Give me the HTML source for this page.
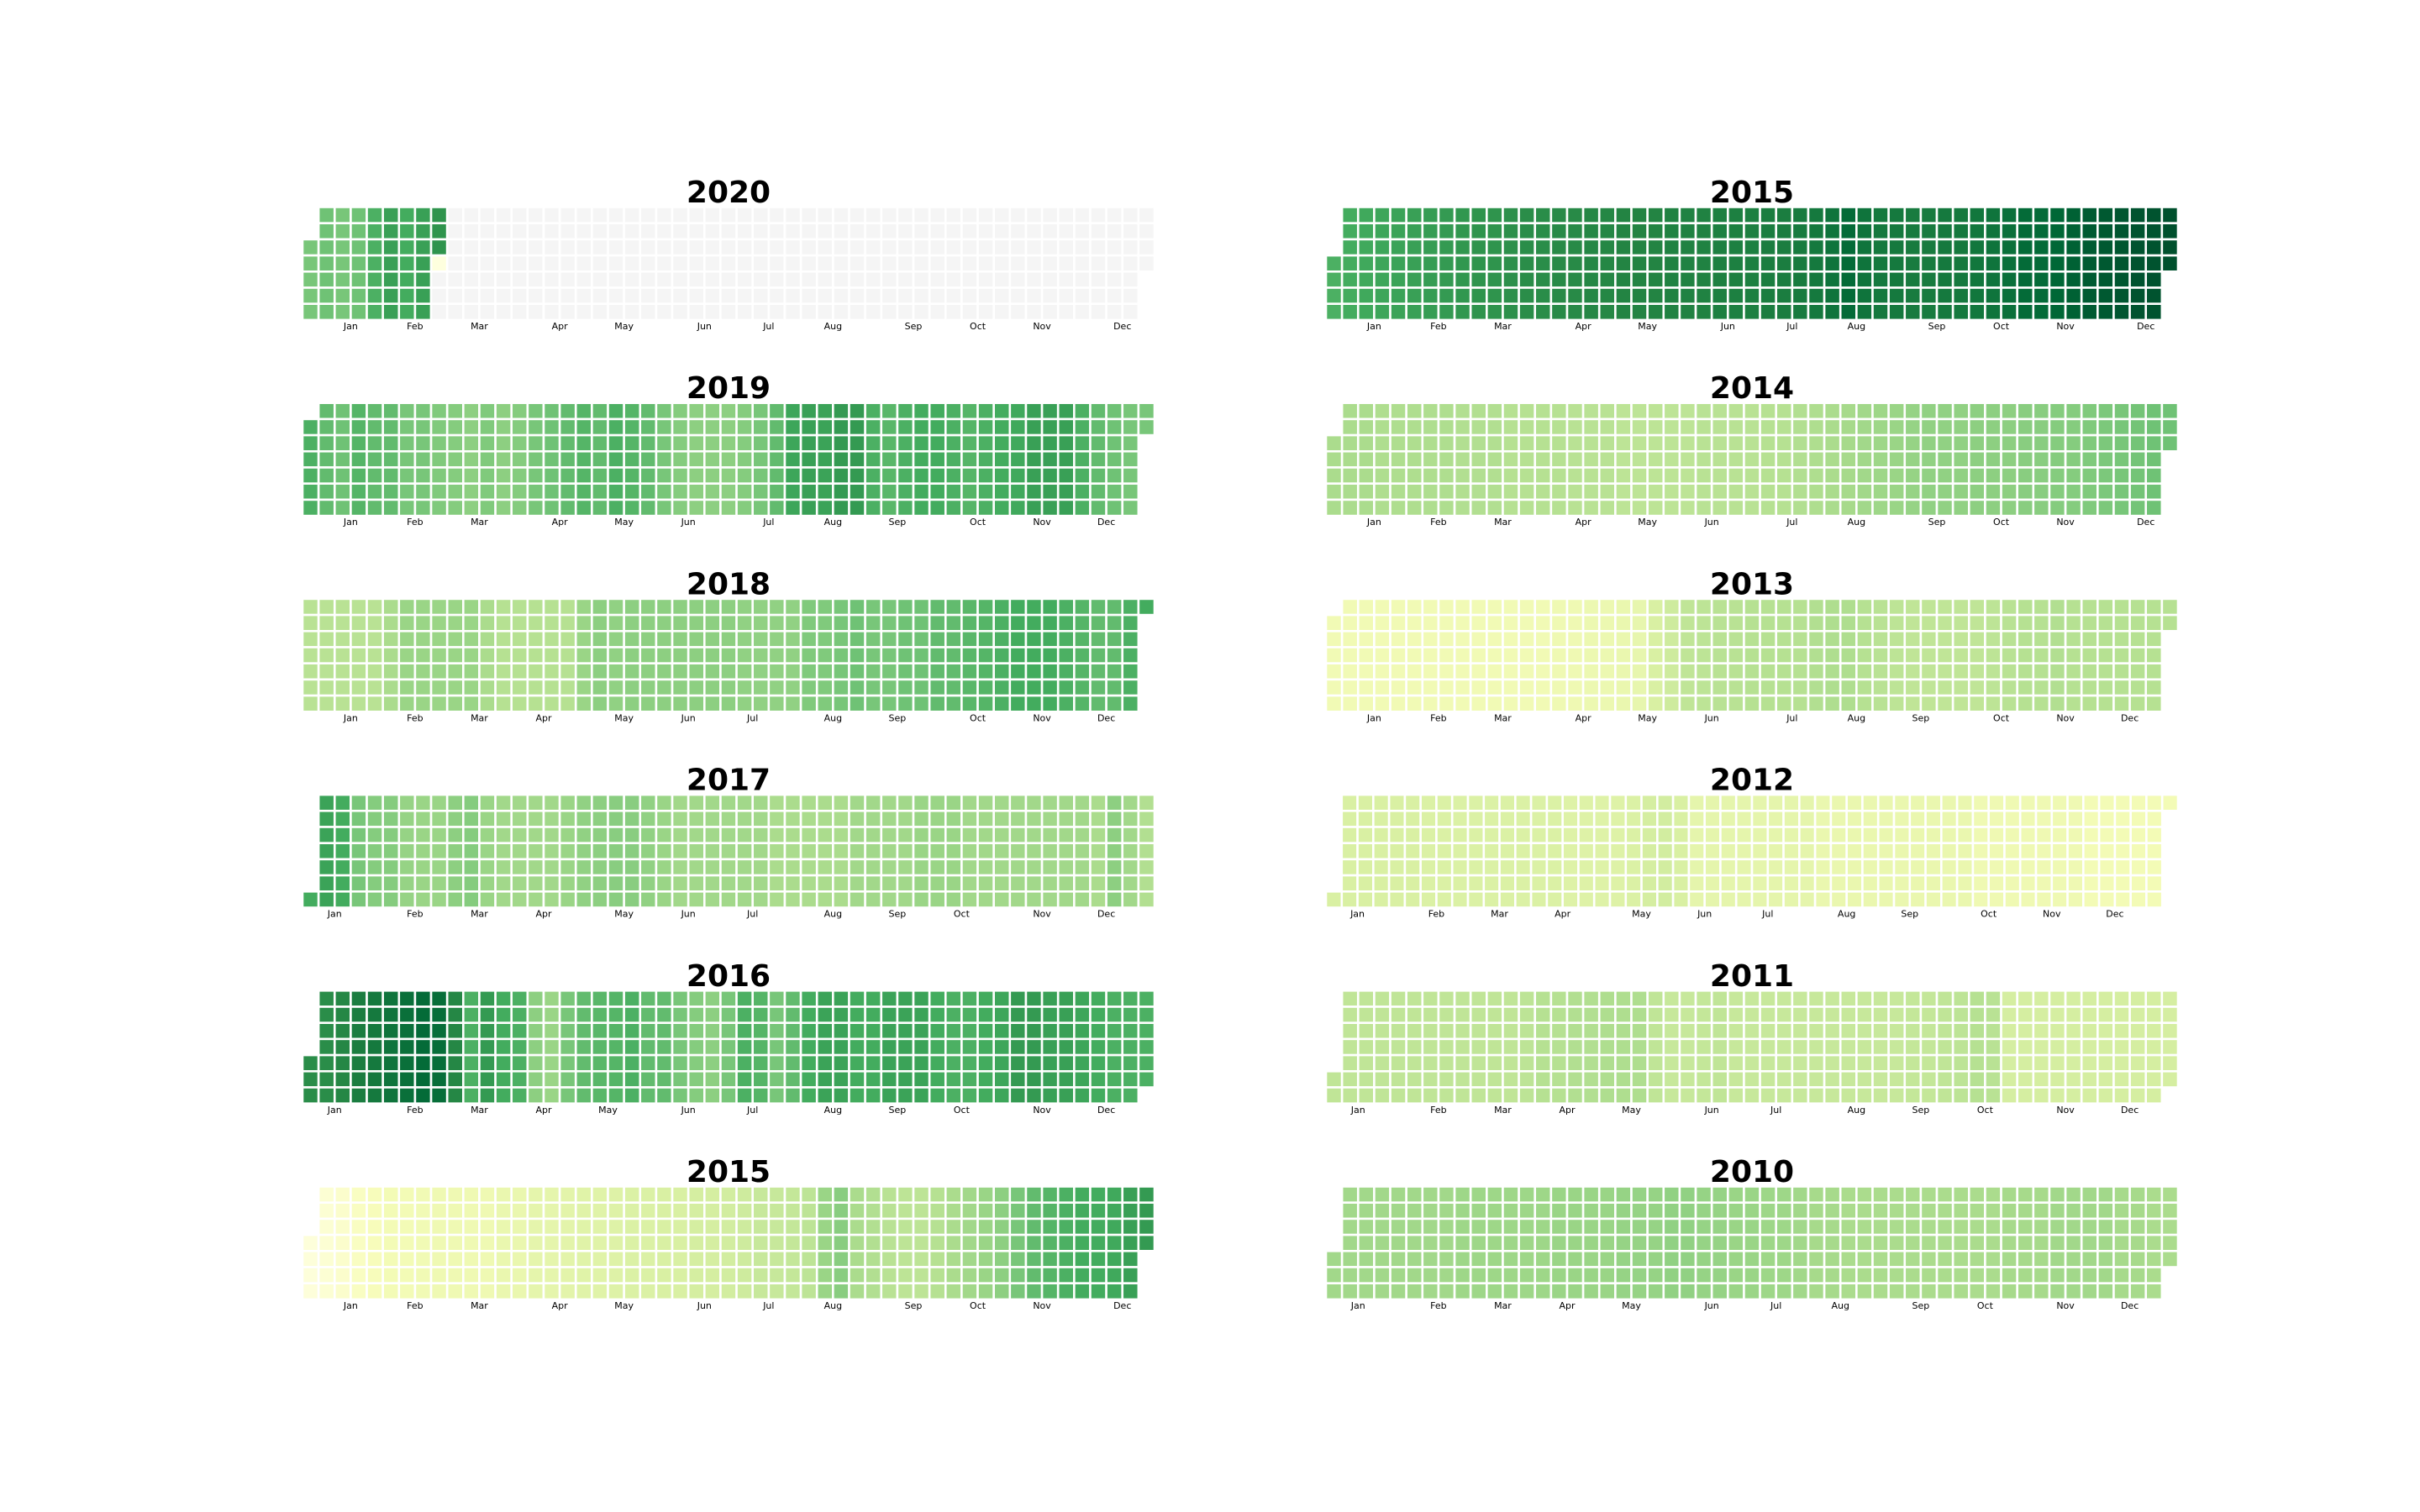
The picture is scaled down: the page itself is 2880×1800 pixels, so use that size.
<!DOCTYPE html>
<html><head><meta charset="utf-8">
<style>
html,body{margin:0;padding:0;background:#fff;}
svg{display:block;}
</style></head>
<body>
<svg id="chart" width="2880" height="1800" viewBox="0 0 2880 1800" xmlns="http://www.w3.org/2000/svg"></svg>
<script>
// ---- data (weekly values, 0..1 on YlGn scale, one per week column) ----
const panelTitles = ["2020","2019","2018","2017","2016","2015","2015","2014","2013","2012","2011","2010"];
const panelYears  = [2020,2019,2018,2017,2016,2015,2015,2014,2013,2012,2011,2010];
const w2020 = [0.5,0.52,0.5,0.52,0.6,0.66,0.62,0.66,0.7];
const dataEnd2020 = "2020-02-27";
const lastValue2020 = 0.02;
const w2019 = [0.6,0.55,0.52,0.58,0.55,0.55,0.5,0.5,0.48,0.47,0.45,0.48,0.45,0.47,0.5,0.52,0.55,0.58,0.55,0.6,0.58,0.55,0.5,0.47,0.45,0.45,0.45,0.47,0.5,0.55,0.64,0.66,0.65,0.68,0.68,0.6,0.57,0.6,0.62,0.62,0.6,0.58,0.6,0.62,0.63,0.66,0.66,0.66,0.6,0.55,0.52,0.5,0.5];
const w2018 = [0.34,0.34,0.34,0.34,0.34,0.38,0.42,0.42,0.42,0.42,0.42,0.38,0.35,0.35,0.35,0.35,0.35,0.42,0.45,0.44,0.45,0.45,0.45,0.45,0.45,0.45,0.45,0.44,0.44,0.44,0.44,0.48,0.48,0.5,0.52,0.5,0.5,0.52,0.52,0.55,0.55,0.57,0.58,0.6,0.62,0.62,0.62,0.6,0.58,0.55,0.55,0.6,0.62];
const w2017 = [0.62,0.65,0.62,0.5,0.47,0.47,0.43,0.42,0.42,0.45,0.47,0.42,0.4,0.4,0.4,0.4,0.42,0.44,0.45,0.46,0.46,0.44,0.42,0.4,0.4,0.4,0.4,0.4,0.4,0.38,0.38,0.38,0.38,0.38,0.4,0.4,0.4,0.4,0.42,0.42,0.42,0.4,0.4,0.4,0.4,0.4,0.4,0.4,0.4,0.38,0.45,0.4,0.36];
const w2016 = [0.72,0.72,0.74,0.78,0.8,0.82,0.84,0.86,0.85,0.74,0.6,0.68,0.62,0.6,0.45,0.42,0.5,0.55,0.57,0.58,0.6,0.55,0.55,0.5,0.47,0.45,0.5,0.6,0.58,0.5,0.55,0.62,0.65,0.65,0.62,0.62,0.65,0.65,0.65,0.62,0.6,0.6,0.62,0.64,0.68,0.68,0.66,0.66,0.64,0.62,0.6,0.6,0.6];
const w2015a = [0.03,0.05,0.07,0.1,0.12,0.14,0.14,0.15,0.16,0.16,0.16,0.16,0.18,0.18,0.2,0.2,0.21,0.22,0.22,0.23,0.24,0.24,0.25,0.25,0.26,0.26,0.27,0.28,0.3,0.3,0.31,0.33,0.42,0.46,0.38,0.36,0.34,0.33,0.33,0.35,0.38,0.4,0.42,0.45,0.5,0.55,0.58,0.6,0.62,0.62,0.63,0.66,0.68];
const w2015b = [0.6,0.62,0.63,0.64,0.65,0.66,0.67,0.68,0.69,0.7,0.7,0.71,0.72,0.72,0.73,0.73,0.74,0.74,0.75,0.75,0.75,0.76,0.76,0.76,0.77,0.77,0.77,0.78,0.78,0.79,0.8,0.82,0.86,0.82,0.8,0.8,0.79,0.79,0.8,0.8,0.81,0.82,0.84,0.86,0.86,0.88,0.9,0.92,0.93,0.94,0.95,0.95,0.96];
const w2014 = [0.38,0.38,0.38,0.37,0.37,0.37,0.37,0.37,0.36,0.36,0.36,0.35,0.35,0.35,0.35,0.34,0.34,0.34,0.33,0.33,0.33,0.33,0.33,0.34,0.34,0.34,0.34,0.35,0.35,0.36,0.37,0.38,0.39,0.4,0.41,0.42,0.43,0.44,0.44,0.44,0.45,0.45,0.45,0.46,0.46,0.47,0.47,0.48,0.49,0.5,0.51,0.52,0.52];
const w2013 = [0.15,0.15,0.15,0.15,0.15,0.15,0.15,0.15,0.15,0.15,0.15,0.15,0.15,0.15,0.16,0.16,0.17,0.17,0.18,0.19,0.25,0.28,0.32,0.33,0.34,0.34,0.35,0.35,0.35,0.35,0.36,0.37,0.37,0.35,0.34,0.33,0.32,0.32,0.32,0.32,0.32,0.33,0.34,0.35,0.35,0.36,0.35,0.35,0.35,0.35,0.35,0.35,0.35];
const w2012 = [0.25,0.25,0.25,0.25,0.25,0.25,0.24,0.24,0.24,0.24,0.24,0.24,0.24,0.24,0.24,0.23,0.23,0.23,0.23,0.24,0.26,0.27,0.25,0.2,0.2,0.2,0.2,0.2,0.2,0.2,0.2,0.18,0.18,0.18,0.18,0.18,0.18,0.18,0.18,0.18,0.18,0.16,0.16,0.16,0.16,0.16,0.16,0.16,0.14,0.14,0.14,0.14,0.14,0.14];
const w2011 = [0.32,0.32,0.32,0.32,0.32,0.32,0.32,0.32,0.32,0.32,0.32,0.32,0.33,0.35,0.35,0.36,0.36,0.37,0.37,0.37,0.32,0.3,0.3,0.31,0.32,0.3,0.3,0.3,0.3,0.3,0.3,0.3,0.3,0.3,0.3,0.3,0.31,0.31,0.32,0.33,0.35,0.34,0.26,0.26,0.26,0.26,0.26,0.26,0.26,0.26,0.26,0.26,0.26];
const w2010 = [0.4,0.4,0.4,0.4,0.4,0.4,0.4,0.4,0.41,0.41,0.41,0.41,0.41,0.41,0.42,0.42,0.42,0.42,0.43,0.43,0.43,0.44,0.44,0.43,0.43,0.42,0.42,0.41,0.41,0.4,0.39,0.39,0.38,0.38,0.38,0.38,0.38,0.38,0.38,0.38,0.38,0.38,0.39,0.39,0.39,0.4,0.4,0.4,0.4,0.39,0.39,0.38,0.38];
const panelWeekly = [w2020,w2019,w2018,w2017,w2016,w2015a,w2015b,w2014,w2013,w2012,w2011,w2010];
const monthLabels = ["Jan","Feb","Mar","Apr","May","Jun","Jul","Aug","Sep","Oct","Nov","Dec"];

// ---- layout ----
const NS = "http://www.w3.org/2000/svg";
const svg = document.getElementById("chart");
const gridW = 1014, rowPitch = 19.2;
const colX0 = [360, 1578];
const top0 = 246.5, panelPitch = 233.2;
const ylgn = ["#ffffe5","#f7fcb9","#d9f0a3","#addd8e","#78c679","#41ab5d","#238443","#006837","#004529"];
function hex2rgb(h){return [parseInt(h.slice(1,3),16),parseInt(h.slice(3,5),16),parseInt(h.slice(5,7),16)];}
function cmap(v){
  v=Math.max(0,Math.min(1,v)); const p=v*(ylgn.length-1); const i=Math.min(Math.floor(p),ylgn.length-2); const f=p-i;
  const a=hex2rgb(ylgn[i]), b=hex2rgb(ylgn[i+1]);
  return "rgb("+a.map((c,k)=>Math.round(c+(b[k]-c)*f)).join(",")+")";
}
function isoWeek(y,m,d){
  const t=new Date(Date.UTC(y,m,d)); const day=(t.getUTCDay()+6)%7;
  t.setUTCDate(t.getUTCDate()-day+3);
  const yr=t.getUTCFullYear(); const jan4=new Date(Date.UTC(yr,0,4));
  const j4day=(jan4.getUTCDay()+6)%7;
  return 1+Math.round(((t-jan4)/864e5-3+j4day)/7);
}
function mk(tag,attrs){const e=document.createElementNS(NS,tag);for(const k in attrs)e.setAttribute(k,attrs[k]);return e;}

panelYears.forEach((year,pi)=>{
  const side = pi<6?0:1, slot = pi%6;
  const x0 = colX0[side], top = top0 + slot*panelPitch;
  const weekly = panelWeekly[pi];
  const g = mk("g",{});
  
  
  svg.appendChild(g);
  const days=[];
  for(let t=Date.UTC(year,0,1); new Date(t).getUTCFullYear()===year; t+=864e5){
    const dt=new Date(t); const m=dt.getUTCMonth(), d=dt.getUTCDate();
    let w=isoWeek(year,m,d);
    days.push({m,d,w,wd:(dt.getUTCDay()+6)%7,iso:dt.toISOString().slice(0,10)});
  }
  days.forEach(o=>{ if(o.m===0 && o.w>50) o.w=0; });
  const maxW=Math.max(...days.map(o=>o.w));
  days.forEach(o=>{ if(o.m===11 && o.w<10) o.w=maxW+1; });
  const weeks=[...new Set(days.map(o=>o.w))].sort((a,b)=>a-b);
  const ncol=weeks.length, pitch=gridW/ncol;
  const xs=v=>x0+v*pitch;
  const title=mk("text",{x:x0+gridW/2,y:top-17,"text-anchor":"middle","dominant-baseline":"central","font-family":"DejaVu Sans, Liberation Sans, sans-serif","font-weight":"bold","font-size":"36"});
  title.textContent=panelTitles[pi];
  
  
  g.appendChild(title);
  days.forEach(o=>{
    const ci=weeks.indexOf(o.w);
    let fill;
    if(year===2020 && pi===0){
      if(o.iso>dataEnd2020) fill="#f5f5f5";
      else if(o.iso===dataEnd2020) fill=cmap(lastValue2020);
      else fill=cmap(weekly[ci]);
    } else fill=cmap(weekly[Math.min(ci,weekly.length-1)]);
    const r=mk("rect",{x:xs(ci),y:top+o.wd*rowPitch,width:pitch,height:rowPitch,fill:fill,stroke:"#fff","stroke-width":"2.6"});
    
    
    g.appendChild(r);
  });
  monthLabels.forEach((lab,mi)=>{
    const o=days.find(q=>q.m===mi && q.d===15);
    const t=mk("text",{x:xs(o.w),y:top+142,"text-anchor":"middle","dominant-baseline":"central","font-family":"DejaVu Sans, Liberation Sans, sans-serif","font-size":"11",fill:"#000"});
    t.textContent=lab;
    
    
    g.appendChild(t);
  });
});
</script>
</body></html>
